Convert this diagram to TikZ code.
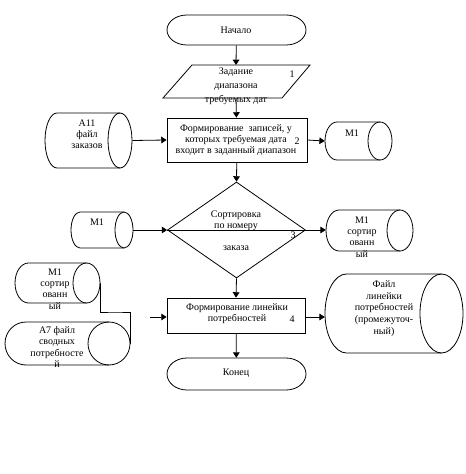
\documentclass[tikz,border=0pt]{standalone}
\usepackage{fontspec}
\setmainfont{Liberation Serif}
\usetikzlibrary{arrows.meta,shapes.geometric}
\newcommand\cylshape[6]{% name x1 y1 x2 y2 rx
  \draw[line] ({#4-#6},#3) -- ({#2+#6},#3)
    arc[start angle=90,end angle=270,x radius={#6*0.75pt},y radius={(#5-#3)/2*0.75pt}]
    -- ({#4-#6},#5);
  \draw[line] ({#4-#6},{(#3+#5)/2}) ellipse[x radius={#6*0.75pt},y radius={(#5-#3)/2*0.75pt}];
  \node[inner sep=0pt,minimum width={(#4-#2)*0.75pt},minimum height={(#5-#3)*0.75pt}] (#1) at ({(#2+#4)/2},{(#3+#5)/2}) {};
}
\newcommand\termshape[5]{% name x1 y1 x2 y2
  \draw[line] ({#2+20},#3) -- ({#4-20},#3)
    arc[start angle=90,end angle=-90,x radius=15pt,y radius={(#5-#3)/2*0.75pt}]
    -- ({#2+20},#5)
    arc[start angle=270,end angle=90,x radius=15pt,y radius={(#5-#3)/2*0.75pt}] -- cycle;
  \node[inner sep=0pt,minimum width={(#4-#2)*0.75pt},minimum height={(#5-#3)*0.75pt}] (#1) at ({(#2+#4)/2},{(#3+#5)/2}) {};
}
\begin{document}
\begin{tikzpicture}[x=0.75pt,y=-0.75pt,
  line/.style={line width=0.6pt},
  arr/.style={line,-{Triangle[length=4pt,width=5pt]}},
  txt/.style={font=\fontsize{7.5}{8.4}\selectfont,align=center,inner sep=0pt},
  box/.style={draw,line,inner sep=0pt}]
\useasboundingbox (0,0) rectangle (466,474);
% start / end
\termshape{start}{167}{15}{306}{45}
\node[txt] (tstart) at (236,30) {Начало};
\termshape{end}{167}{358}{306}{390}
\node[txt] (tend) at (236,373) {Конец};
% parallelogram
\coordinate (pt) at (236,65);
\coordinate (pb) at (236,98);
\draw[line] (192,65) -- (310,65) -- (282,98) -- (163,98) -- cycle;
\node[txt,font=\fontsize{7.5}{10.5}\selectfont] (para) at (236,86) {Задание\\диапазона\\требуемых дат};
\node[txt] (n1) at (292,74) {1};
% box 2
\node[box,minimum width=140*0.75pt,minimum height=44*0.75pt] (b2) at (237,140) {};
\node[txt] (t2) at (236,140) {Формирование \ записей, у\\которых требуемая дата\\входит в заданный диапазон};
\node[txt] (n2) at (297,141) {2};
% diamond
\node[draw,line,diamond,inner sep=0pt,minimum width=138*0.75pt,minimum height=96*0.75pt] (dia) at (236.5,230) {};
\node[txt] (t3a) at (236,221) {Сортировка\\по номеру};
\node[txt] (t3b) at (236,248) {заказа};
\node[txt] (n3) at (293,235) {3};
% box 4
\node[box,minimum width=138*0.75pt,minimum height=35*0.75pt] (b4) at (236,315.5) {};
\node[txt] (t4) at (237,314) {Формирование линейки\\потребностей};
\node[txt] (n4) at (292,319) {4};
% cylinders
\cylshape{a11}{45}{113}{132}{168}{12}
\node[txt] (ta11) at (87,134.5) {А11\\файл\\заказов};
\cylshape{m1a}{325}{122}{392}{160}{12}
\node[txt] (tm1a) at (352,133) {М1};
\cylshape{m1b}{71}{212}{133}{248}{9}
\node[txt] (tm1b) at (97,222) {М1};
\cylshape{m1c}{326}{210}{413}{251}{13}
\node[txt] (tm1c) at (362,237) {М1\\сортир\\ованн\\ый};
\cylshape{m1d}{15}{263}{100}{303}{13.5}
\node[txt] (tm1d) at (55,289) {М1\\сортир\\ованн\\ый};
\cylshape{a7}{5}{322}{130}{365}{21}
\node[txt] (ta7) at (57,347) {А7 файл\\сводных\\потребносте\\й};
\cylshape{big}{325}{274}{463}{353}{21.5}
\node[txt,font=\fontsize{7.5}{8.8}\selectfont] (tbig) at (384,308.5) {Файл\\линейки\\потребностей\\(промежуточ-\\ный)};
% connectors
\draw[arr] (start) -- (pt);
\draw[arr] (pb) -- (b2);
\draw[arr] (a11.east) -- (b2.west);
\draw[arr] (b2.east) -- (m1a.west);
\draw[arr] (b2) -- (dia.north);
\draw[arr] (m1b.east) -- (dia.west);
\draw[line] (dia.west) -- (dia.east);
\draw[arr] (dia.east) -- (m1c.west |- dia.east);
\draw[arr] (dia.south) -- (b4.north);
\coordinate (in4) at (150,317);
\draw[arr] (in4) -- (in4 -| b4.west);
\draw[arr] (b4.east |- in4) -- (big.west |- in4);
\draw[arr] (b4) -- (end);
\coordinate (bend) at (115,312);
\draw[line] (m1d.east) |- (bend) -| (a7.east);
\end{tikzpicture}
\end{document}
